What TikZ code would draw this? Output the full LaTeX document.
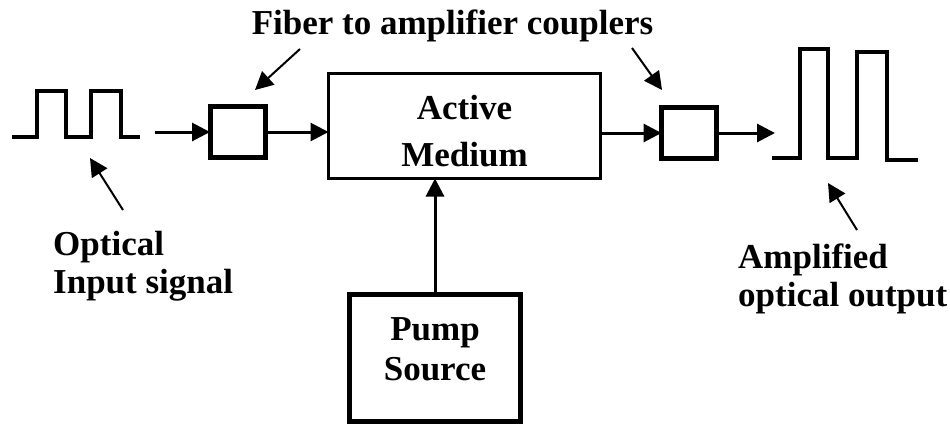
\documentclass[tikz,border=0pt]{standalone}
\usepackage{fontspec}
\setmainfont{Liberation Serif}[Ligatures=NoCommon]
\usetikzlibrary{arrows.meta}

\begin{document}
\begin{tikzpicture}[
  x=1pt, y=-1pt,
  font=\fontsize{35}{38}\selectfont\bfseries,
  >={Triangle[length=18pt,width=18pt]},
  coupler/.style={draw, line width=5pt, minimum width=55pt, minimum height=51pt, inner sep=0pt, outer sep=0pt},
  block/.style={draw, align=center, inner sep=0pt, outer sep=0pt},
  tag/.style={anchor=north west, align=left, inner sep=0pt},
  arr/.style={->, line width=3pt},
  ptr/.style={->, line width=2pt},
  pulse/.style={line width=4pt, line join=miter},
]
\useasboundingbox (0,0) rectangle (950,426);

% Blocks
\node[block, line width=3pt, minimum width=272pt, minimum height=105pt, text height=80pt, text depth=0pt] (medium) at (464.5,126) {Active\\[9pt]Medium};
\node[block, line width=5pt, minimum width=171pt, minimum height=127pt, text depth=17pt] (pump) at (435,357.5) {Pump\\[2pt]Source};
\node[coupler] (cplin) at (237.5,132) {};
\node[coupler] (cplout) at (689,133) {};

% Texts
\node[anchor=base, inner sep=0pt] (title) at (452.5,34) {Fiber to amplifier couplers};
\node[tag] (inlabel) at (53,231) {Optical\\Input signal};
\node[tag] (outlabel) at (738,244) {Amplified\\optical output};

% Pulses
\draw[pulse] (12,137) -- (37,137) -- (37,91) -- (66,91) -- (66,137) -- (91,137) -- (91,91) -- (121,91) -- (121,137) -- (140,137);
\draw[pulse] (772,158) -- (800,158) -- (800,49) -- (828,49) -- (828,158) -- (857,158) -- (857,52) -- (887,52) -- (887,160) -- (918,160);

% Signal path
\coordinate (sigin) at (155,132);
\coordinate (sigout) at (775,133);
\draw[arr] (sigin) -- (cplin.west);
\draw[arr] (cplin.east) -- (cplin.east -| medium.west);
\draw[arr] (medium.east |- cplout.west) -- (cplout.west);
\draw[arr] (cplout.east) -- (sigout);
\draw[arr] (pump.north) -- (pump.north |- medium.south);

% Pointers
\coordinate (ptrA) at (300,49);
\coordinate (ptrAtip) at (255,90);
\coordinate (ptrB) at (632,48);
\coordinate (ptrBtip) at (662,90);
\coordinate (ptrC) at (123,210);
\coordinate (ptrCtip) at (90,158);
\coordinate (ptrD) at (857,230);
\coordinate (ptrDtip) at (828,183);
\draw[ptr] (ptrA) -- (ptrAtip);
\draw[ptr] (ptrB) -- (ptrBtip);
\draw[ptr] (ptrC) -- (ptrCtip);
\draw[ptr] (ptrD) -- (ptrDtip);

\end{tikzpicture}
\end{document}
